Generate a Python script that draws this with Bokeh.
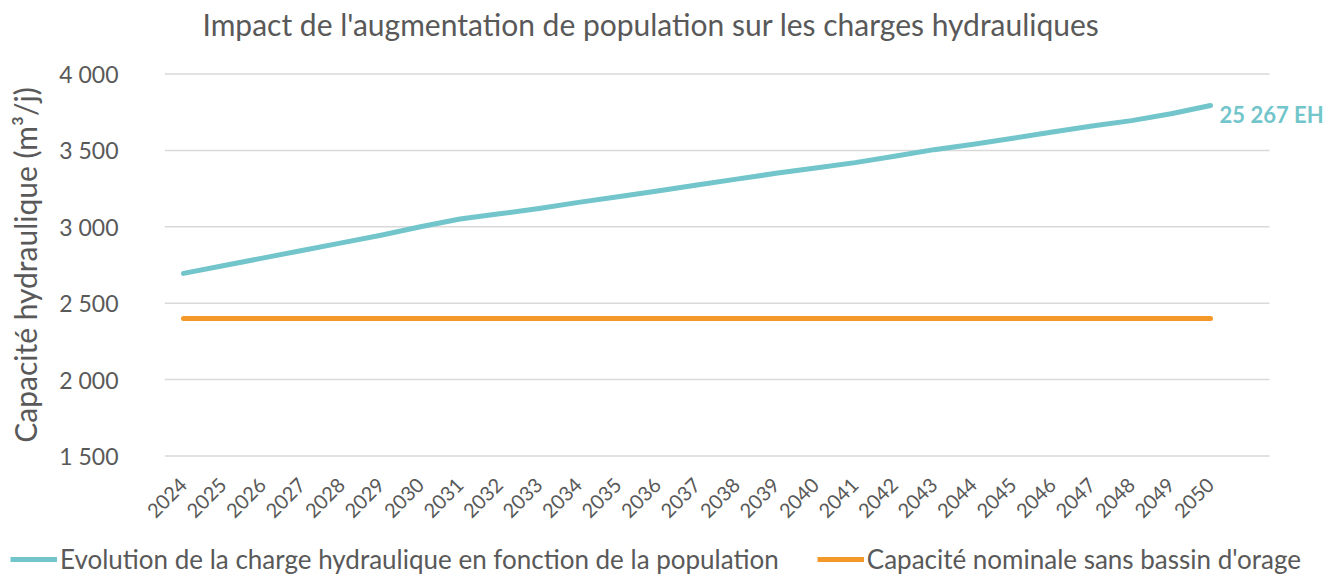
import math
from bokeh.plotting import figure
from bokeh.layouts import column
from bokeh.models import (Range1d, FixedTicker, Legend, LegendItem, Label,
                          ColumnDataSource)
from bokeh.embed import file_html
from bokeh.resources import INLINE

# ---- data ----
years = [2024, 2025, 2026, 2027, 2028, 2029, 2030, 2031, 2032, 2033, 2034,
         2035, 2036, 2037, 2038, 2039, 2040, 2041, 2042, 2043, 2044, 2045,
         2046, 2047, 2048, 2049, 2050]
charge = [2695, 2745, 2795, 2845, 2895, 2945, 3000, 3051, 3085, 3120, 3160,
          3197, 3235, 3273, 3312, 3350, 3385, 3420, 3462, 3505, 3540, 3580,
          3620, 3660, 3695, 3740, 3794]
capacite = [2400, 2400, 2400, 2400, 2400, 2400, 2400, 2400, 2400, 2400, 2400,
            2400, 2400, 2400, 2400, 2400, 2400, 2400, 2400, 2400, 2400, 2400,
            2400, 2400, 2400, 2400, 2400]
y_ticks = [1500, 2000, 2500, 3000, 3500, 4000]
y_tick_labels = ["1 500", "2 000", "2 500", "3 000", "3 500", "4 000"]
x_tick_labels = [str(y) for y in years]
series_names = ["Evolution de la charge hydraulique en fonction de la population",
                "Capacité nominale sans bassin d'orage"]
end_label = "25 267 EH"
title_text = "Impact de l'augmentation de population sur les charges hydrauliques"
y_title = "Capacité hydraulique (m³/j)"

TEAL = "#72C5CA"
ORANGE = "#F5982A"
GREY = "#595959"
FONT = "Lato"

W = 1325
H_TITLE, H_MAIN, H_LEG = 45, 482, 48
X0, X1 = 2023.519, 2052.911     # frame x extent
GRID_X1 = 2051.494               # where the horizontal grid lines stop

src = ColumnDataSource(dict(x=years, charge=charge, cap=capacite))

# ---- title strip ----
pt = figure(width=W, height=H_TITLE, output_backend="svg",
            toolbar_location=None, x_axis_type=None, y_axis_type=None,
            x_range=Range1d(0, 1), y_range=Range1d(0, 1), min_border=0)
pt.outline_line_color = None
pt.grid.visible = False
pt.add_layout(Label(x=38, y=22, x_units="screen", y_units="screen",
                    text=title_text, text_align="left", text_baseline="middle",
                    text_font=FONT, text_font_size="30px", text_color=GREY))

# ---- main chart ----
p = figure(width=W, height=H_MAIN, output_backend="svg", toolbar_location=None,
           x_range=Range1d(X0, X1), y_range=Range1d(1490, 4010),
           min_border_left=164, min_border_right=0,
           min_border_top=27, min_border_bottom=62)
p.outline_line_color = None
p.background_fill_color = "white"
p.border_fill_color = "white"

grid_src = ColumnDataSource(dict(y=y_ticks, x0=[X0] * len(y_ticks),
                                 x1=[GRID_X1] * len(y_ticks)))
p.segment(x0="x0", x1="x1", y0="y", y1="y", source=grid_src,
          line_color="#D9D9D9", line_width=1.5)

p.line("x", "charge", source=src, line_color=TEAL, line_width=5,
       line_cap="round", line_join="round")
p.line("x", "cap", source=src, line_color=ORANGE, line_width=5,
       line_cap="round")

p.xaxis.ticker = FixedTicker(ticks=years)
p.xaxis.major_label_overrides = {y: l for y, l in zip(years, x_tick_labels)}
p.xaxis.major_label_orientation = math.pi / 4
p.xaxis.major_label_text_font = FONT
p.xaxis.major_label_text_font_size = "20px"
p.xaxis.major_label_text_color = GREY
p.xaxis.major_label_standoff = 18
p.xaxis.axis_line_color = None
p.xaxis.major_tick_line_color = None
p.xaxis.minor_tick_line_color = None

p.yaxis.ticker = FixedTicker(ticks=y_ticks)
p.yaxis.major_label_overrides = {t: l for t, l in zip(y_ticks, y_tick_labels)}
p.yaxis.major_label_text_font = FONT
p.yaxis.major_label_text_font_size = "23px"
p.yaxis.major_label_text_color = GREY
p.yaxis.major_label_standoff = 46
p.yaxis.major_tick_out = 0
p.yaxis.axis_line_color = None
p.yaxis.major_tick_line_color = None
p.yaxis.minor_tick_line_color = None
p.yaxis.axis_label = y_title
p.yaxis.axis_label_text_font = FONT
p.yaxis.axis_label_text_font_size = "30px"
p.yaxis.axis_label_text_font_style = "normal"
p.yaxis.axis_label_text_color = GREY
p.yaxis.axis_label_standoff = 13

p.xgrid.grid_line_color = None
p.ygrid.grid_line_color = None

p.add_layout(Label(x=years[-1], y=charge[-1], text=end_label, x_offset=9,
                   y_offset=-9, text_baseline="middle", text_align="left",
                   text_font=FONT, text_font_style="bold",
                   text_font_size="22px", text_color=TEAL))

# ---- legend strip (separate root so its frame spans the full width) ----
pl = figure(width=W, height=H_LEG, output_backend="svg", toolbar_location=None,
            x_axis_type=None, y_axis_type=None,
            x_range=Range1d(0, 1), y_range=Range1d(0, 1), min_border=0)
pl.outline_line_color = None
pl.grid.visible = False
# series drawn out of view here: only their legend samples show
lr1 = pl.line("x", "charge", source=src, line_color=TEAL, line_width=5)
lr2 = pl.line("x", "cap", source=src, line_color=ORANGE, line_width=5)
legend = Legend(items=[LegendItem(label=series_names[0], renderers=[lr1]),
                       LegendItem(label=series_names[1], renderers=[lr2])],
                location=(10, 0), orientation="horizontal",
                glyph_width=47, glyph_height=20, label_height=20,
                label_standoff=3, padding=0, margin=0, spacing=38,
                border_line_color=None, background_fill_alpha=0,
                label_text_font=FONT, label_text_font_size="26px",
                label_text_color=GREY)
pl.add_layout(legend, "center")

open("out.html", "w").write(file_html([column(pt, p), pl], INLINE))
